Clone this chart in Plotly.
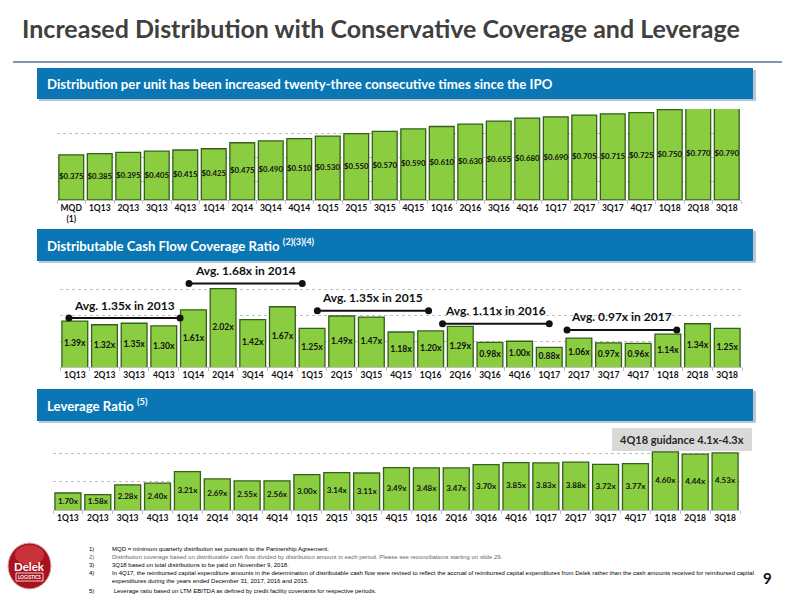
import plotly.graph_objects as go

# ---------------- data ----------------
dist_quarters = ["MQD<br>(1)", "1Q13", "2Q13", "3Q13", "4Q13", "1Q14", "2Q14", "3Q14", "4Q14",
                 "1Q15", "2Q15", "3Q15", "4Q15", "1Q16", "2Q16", "3Q16", "4Q16",
                 "1Q17", "2Q17", "3Q17", "4Q17", "1Q18", "2Q18", "3Q18"]
dist_values = [0.375, 0.385, 0.395, 0.405, 0.415, 0.425, 0.475, 0.490, 0.510,
               0.530, 0.550, 0.570, 0.590, 0.610, 0.630, 0.655, 0.680,
               0.690, 0.705, 0.715, 0.725, 0.750, 0.770, 0.790]

quarters = ["1Q13", "2Q13", "3Q13", "4Q13", "1Q14", "2Q14", "3Q14", "4Q14",
            "1Q15", "2Q15", "3Q15", "4Q15", "1Q16", "2Q16", "3Q16", "4Q16",
            "1Q17", "2Q17", "3Q17", "4Q17", "1Q18", "2Q18", "3Q18"]
coverage_values = [1.39, 1.32, 1.35, 1.30, 1.61, 2.02, 1.42, 1.67,
                   1.25, 1.49, 1.47, 1.18, 1.20, 1.29, 0.98, 1.00,
                   0.88, 1.06, 0.97, 0.96, 1.14, 1.34, 1.25]
leverage_values = [1.70, 1.58, 2.28, 2.40, 3.21, 2.69, 2.55, 2.56,
                   3.00, 3.14, 3.11, 3.49, 3.48, 3.47, 3.70, 3.85,
                   3.83, 3.88, 3.72, 3.77, 4.60, 4.44, 4.53]

avg_labels = ["Avg. 1.35x in 2013", "Avg. 1.68x in 2014", "Avg. 1.35x in 2015",
              "Avg. 1.11x in 2016", "Avg. 0.97x in 2017"]

# ---------------- layout helpers (positions / styles) ----------------
avg_spans = [(-0.2, 3.55), (3.85, 7.67), (8.18, 11.93), (12.4, 16.0), (16.6, 20.3)]
avg_line_y = [1.45, 2.12, 1.59, 1.34, 1.22]

FONT = "Lato"
GREEN = "#8ACD40"
EDGE = "#33601A"
BLUE = "#0A76B3"

R1 = [0, 0.755]
R2 = [0.5, 2.5]
R3 = [0.5, 6.5]

def py(px):
    return 1 - px / 600.0

def pxx(px):
    return px / 800.0

fig = go.Figure()

def add_panel(cats, vals, labels, rng, size, xa, ya):
    fig.add_trace(go.Bar(x=cats, y=vals, marker=dict(color=GREEN, line=dict(color=EDGE, width=1.3)),
                         hoverinfo="skip", showlegend=False, xaxis=xa, yaxis=ya))
    mids = [(rng[0] + min(v, rng[1])) / 2 for v in vals]
    fig.add_trace(go.Scatter(x=cats, y=mids, mode="text", text=labels,
                             textposition="middle center", cliponaxis=False,
                             textfont=dict(family=FONT, size=size, color="#111111"),
                             hoverinfo="skip", showlegend=False, xaxis=xa, yaxis=ya))

add_panel(dist_quarters, dist_values, [f"<b>${v:.3f}</b>" for v in dist_values], R1, 7.8, "x", "y")
add_panel(quarters, coverage_values, [f"<b>{v:.2f}x</b>" for v in coverage_values], R2, 8.6, "x2", "y2")
add_panel(quarters, leverage_values, [f"<b>{v:.2f}x</b>" for v in leverage_values], R3, 8, "x3", "y3")

xcommon = dict(type="category", showgrid=False, zeroline=False, showline=True,
               linecolor="#BFBFBF", linewidth=1, ticks="outside", tickson="boundaries",
               ticklen=3, tickcolor="#BFBFBF", tickangle=0,
               tickfont=dict(family=FONT, size=8.5, color="#111111"), fixedrange=True)
ycommon = dict(showgrid=True, gridcolor="#BFBFBF", griddash="dot", gridwidth=1,
               zeroline=False, showticklabels=False, showline=False, fixedrange=True)

fig.update_layout(
    width=800, height=600, margin=dict(l=0, r=0, t=0, b=0),
    paper_bgcolor="white", plot_bgcolor="white", bargap=0.13,
    xaxis=dict(domain=[pxx(57), pxx(741)], anchor="y", range=[-0.5, len(dist_quarters) - 0.5],
               tickvals=dist_quarters, ticktext=[f"<b>{q}</b>" for q in dist_quarters], **xcommon),
    yaxis=dict(domain=[py(200), py(109)], anchor="x", range=R1,
               tick0=0.155, dtick=0.2, **ycommon),
    xaxis2=dict(domain=[pxx(60), pxx(742)], anchor="y2", range=[-0.5, len(quarters) - 0.5],
                tickvals=quarters, ticktext=[f"<b>{q}</b>" for q in quarters], **xcommon),
    yaxis2=dict(domain=[py(367), py(264)], anchor="x2", range=R2,
                tick0=0.5, dtick=0.5, **ycommon),
    xaxis3=dict(domain=[pxx(53), pxx(740)], anchor="y3", range=[-0.5, len(quarters) - 0.5],
                tickvals=quarters, ticktext=[f"<b>{q}</b>" for q in quarters], **xcommon),
    yaxis3=dict(domain=[py(510), py(425)], anchor="x3", range=R3,
                tick0=0.5, dtick=2, **ycommon),
)

shapes = []
annotations = []

# title + rule
annotations.append(dict(xref="paper", yref="paper", x=pxx(20), y=py(28), xanchor="left",
                        yanchor="middle", showarrow=False,
                        text="<b>Increased Distribution with Conservative Coverage and Leverage</b>",
                        font=dict(family=FONT, size=25, color="#404040")))
shapes.append(dict(type="line", xref="paper", yref="paper", x0=pxx(13), x1=pxx(782),
                   y0=py(62), y1=py(62), line=dict(color="#8494AE", width=2)))

# section headers
headers = [(68, 99, "Distribution per unit has been increased twenty-three consecutive times since the IPO"),
           (229, 261, "Distributable Cash Flow Coverage Ratio <sup>(2)(3)(4)</sup>"),
           (389, 421, "Leverage Ratio <sup>(5)</sup>")]
for top, bot, txt in headers:
    shapes.append(dict(type="rect", xref="paper", yref="paper", x0=pxx(39), x1=pxx(756),
                       y0=py(bot + 2), y1=py(top + 2), fillcolor="#B8C7D6", line=dict(width=0),
                       layer="below"))
    shapes.append(dict(type="rect", xref="paper", yref="paper", x0=pxx(37), x1=pxx(753),
                       y0=py(bot), y1=py(top), fillcolor=BLUE, line=dict(width=0)))
    annotations.append(dict(xref="paper", yref="paper", x=pxx(45), y=py((top + bot) / 2),
                            xanchor="left", yanchor="middle", showarrow=False,
                            text=f"<b>{txt}</b>",
                            font=dict(family=FONT, size=13.2, color="white")))

# average brackets on coverage chart
for lab, (a, b), ly in zip(avg_labels, avg_spans, avg_line_y):
    shapes.append(dict(type="line", xref="x2", yref="y2", x0=a, x1=b, y0=ly, y1=ly,
                       line=dict(color="#111111", width=2)))
    for xe in (a, b):
        shapes.append(dict(type="circle", xref="x2", yref="y2", xsizemode="pixel",
                           ysizemode="pixel", xanchor=xe, yanchor=ly,
                           x0=-3.5, x1=3.5, y0=-3.5, y1=3.5,
                           fillcolor="#111111", line=dict(width=0)))
    annotations.append(dict(xref="x2", yref="y2", x=(a + b) / 2, y=ly, yshift=13,
                            xanchor="center", yanchor="middle", showarrow=False,
                            text=f"<b>{lab}</b>",
                            font=dict(family=FONT, size=12, color="#111111")))

# guidance box
shapes.append(dict(type="rect", xref="paper", yref="paper", x0=pxx(612), x1=pxx(752),
                   y0=py(451), y1=py(428), fillcolor="#D9D9D9", line=dict(width=0)))
annotations.append(dict(xref="paper", yref="paper", x=pxx(682), y=py(439.5),
                        xanchor="center", yanchor="middle", showarrow=False,
                        text="<b>4Q18 guidance 4.1x-4.3x</b>",
                        font=dict(family=FONT, size=11, color="#262626")))

# footnotes
notes = [("1)", "MQD = minimum quarterly distribution set pursuant to the Partnership Agreement.", "#000000", 549),
         ("2)", "Distribution coverage based on distributable cash flow divided by distribution amount in each period. Please see reconciliations starting on slide 29.", "#666666", 557),
         ("3)", "3Q18 based on total distributions to be paid on November 9, 2018.", "#000000", 565),
         ("4)", "In 4Q17, the reimbursed capital expenditure amounts in the determination of distributable cash flow were revised to reflect the accrual of reimbursed capital expenditures from Delek rather than the cash amounts received for reimbursed capital", "#000000", 573),
         ("", "expenditures during the years ended December 31, 2017, 2016 and 2015.", "#000000", 581),
         ("5)", " Leverage ratio based on LTM EBITDA as defined by credit facility covenants for respective periods.", "#000000", 591)]
for num, txt, col, yy in notes:
    if num:
        annotations.append(dict(xref="paper", yref="paper", x=pxx(87), y=py(yy), xanchor="left",
                                yanchor="middle", showarrow=False, text=num,
                                font=dict(family="Liberation Sans", size=6, color=col)))
    annotations.append(dict(xref="paper", yref="paper", x=pxx(110), y=py(yy), xanchor="left",
                            yanchor="middle", showarrow=False, text=txt,
                            font=dict(family="Liberation Sans", size=6, color=col)))

# page number
annotations.append(dict(xref="paper", yref="paper", x=pxx(767), y=py(578), xanchor="center",
                        yanchor="middle", showarrow=False, text="<b>9</b>",
                        font=dict(family=FONT, size=15, color="#111111")))

# logo
shapes.append(dict(type="circle", xref="paper", yref="paper", x0=pxx(8), x1=pxx(51),
                   y0=py(589), y1=py(543), fillcolor="#A8121D", line=dict(color="#D9B0B0", width=1)))
shapes.append(dict(type="circle", xref="paper", yref="paper", x0=pxx(15), x1=pxx(44),
                   y0=py(565), y1=py(545), fillcolor="#C8323A", line=dict(width=0)))
annotations.append(dict(xref="paper", yref="paper", x=pxx(29.5), y=py(566), xanchor="center",
                        yanchor="middle", showarrow=False, text="<b>Delek</b>",
                        font=dict(family=FONT, size=11.5, color="white")))
shapes.append(dict(type="rect", xref="paper", yref="paper", x0=pxx(16), x1=pxx(43),
                   y0=py(581), y1=py(573), fillcolor="#A8121D", line=dict(color="white", width=0.8)))
annotations.append(dict(xref="paper", yref="paper", x=pxx(29.5), y=py(577), xanchor="center",
                        yanchor="middle", showarrow=False, text="<b>LOGISTICS</b>",
                        font=dict(family=FONT, size=4.6, color="white")))

fig.update_layout(shapes=shapes, annotations=annotations)
fig.write_html("out.html", config={"displayModeBar": False},
               post_script="document.body.style.margin='0';document.body.style.padding='0';")
